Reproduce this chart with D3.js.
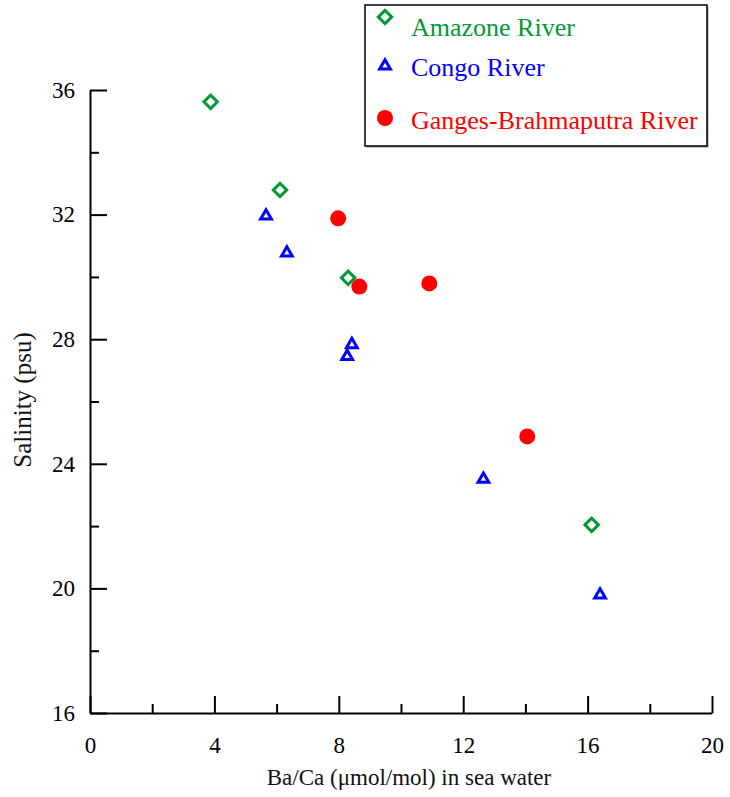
<!DOCTYPE html>
<html>
<head>
<meta charset="utf-8">
<script src="https://cdn.jsdelivr.net/npm/d3@7"></script>
<style>
body { margin: 0; background: white; }
text { font-family: "Liberation Serif", "Times New Roman", serif; }
</style>
</head>
<body>
<script>
// values
var amazone_x = [3.88, 6.11, 8.30, 16.13]
var amazone_y = [35.62, 32.79, 29.97, 22.04]
var congo_x = [5.66, 6.33, 8.42, 8.27, 12.65, 16.40]
var congo_y = [31.99, 30.80, 27.86, 27.48, 23.54, 19.82]
var ganges_x = [7.98, 8.66, 10.91, 14.06]
var ganges_y = [31.88, 29.69, 29.79, 24.88]

var x_ticks = [0, 4, 8, 12, 16, 20]
var x_minor = [2, 6, 10, 14, 18]
var y_ticks = [16, 20, 24, 28, 32, 36]
var y_minor = [18, 22, 26, 30, 34]

var series_names = ["Amazone River", "Congo River", "Ganges-Brahmaputra River"]

var w = 730
var h = 797

var x_scale = d3.scaleLinear().domain([0, 20]).range([90, 712])
var y_scale = d3.scaleLinear().domain([16, 36]).range([713, 90])

var svg = d3.select("body")
            .append("svg")
            .attr("width", w)
            .attr("height", h)

// x axis
var x_axis = svg.append("g")
    .attr("transform", "translate(0," + y_scale(16) + ")")
    .call(d3.axisBottom(x_scale).tickValues(x_ticks).tickSizeInner(-17).tickSizeOuter(0).tickPadding(24))
x_axis.selectAll("text").attr("font-size", 23).attr("fill", "black").attr("font-family", "Liberation Serif")

svg.append("g")
    .attr("transform", "translate(0," + y_scale(16) + ")")
    .call(d3.axisBottom(x_scale).tickValues(x_minor).tickSizeInner(-9).tickSizeOuter(0).tickFormat(""))
    .select(".domain").remove()

// y axis
var y_axis = svg.append("g")
    .attr("transform", "translate(" + x_scale(0) + ",0)")
    .call(d3.axisLeft(y_scale).tickValues(y_ticks).tickSizeInner(-17).tickSizeOuter(0).tickPadding(15))
y_axis.selectAll("text").attr("font-size", 23).attr("fill", "black").attr("font-family", "Liberation Serif")

svg.append("g")
    .attr("transform", "translate(" + x_scale(0) + ",0)")
    .call(d3.axisLeft(y_scale).tickValues(y_minor).tickSizeInner(-9).tickSizeOuter(0).tickFormat(""))
    .select(".domain").remove()

svg.selectAll(".domain, .tick line")
    .attr("stroke", "black")
    .attr("stroke-width", 2)

// axis titles
svg.append("text")
    .attr("x", 409)
    .attr("y", 785)
    .attr("text-anchor", "middle")
    .attr("font-size", 23)
    .attr("fill", "#111")
    .text("Ba/Ca (\u03bcmol/mol) in sea water")

svg.append("text")
    .attr("transform", "translate(31,400) rotate(-90)")
    .attr("text-anchor", "middle")
    .attr("font-size", 25)
    .attr("fill", "#111")
    .text("Salinity (psu)")

// markers
var green = "#009933"
var blue = "#0000ff"
var red = "#ff0000"

var diamond = d3.symbol().type(d3.symbolSquare).size(90)
var tri = d3.symbol().type(d3.symbolTriangle).size(50)

function draw_diamonds(g, xs, ys) {
    g.selectAll(null)
        .data(xs.map((d, i) => [d, ys[i]]))
        .enter()
        .append("path")
        .attr("d", diamond)
        .attr("transform", d => "translate(" + x_scale(d[0]) + "," + y_scale(d[1]) + ") rotate(45)")
        .attr("fill", "none")
        .attr("stroke", green)
        .attr("stroke-width", 3)
}

function draw_triangles(g, xs, ys) {
    g.selectAll(null)
        .data(xs.map((d, i) => [d, ys[i]]))
        .enter()
        .append("path")
        .attr("d", tri)
        .attr("transform", d => "translate(" + x_scale(d[0]) + "," + (y_scale(d[1]) + 1) + ")")
        .attr("fill", "none")
        .attr("stroke", blue)
        .attr("stroke-width", 3)
}

function draw_circles(g, xs, ys) {
    g.selectAll(null)
        .data(xs.map((d, i) => [d, ys[i]]))
        .enter()
        .append("circle")
        .attr("cx", d => x_scale(d[0]))
        .attr("cy", d => y_scale(d[1]))
        .attr("r", 8)
        .attr("fill", red)
}

var pts = svg.append("g")
draw_diamonds(pts, amazone_x, amazone_y)
draw_triangles(pts, congo_x, congo_y)
draw_circles(pts, ganges_x, ganges_y)

// legend
var legend = svg.append("g")
legend.append("rect")
    .attr("x", 366.5).attr("y", 6.5)
    .attr("width", 342).attr("height", 141)
    .attr("fill", "#999")
legend.append("rect")
    .attr("x", 365).attr("y", 5)
    .attr("width", 342).attr("height", 141)
    .attr("fill", "white")
    .attr("stroke", "black")
    .attr("stroke-width", 1.5)

var leg_y = [17, 65, 118]
var leg_text_y = [36, 76, 129]
var leg_colors = [green, blue, red]

legend.append("path")
    .attr("d", diamond)
    .attr("transform", "translate(385," + leg_y[0] + ") rotate(45)")
    .attr("fill", "none").attr("stroke", green).attr("stroke-width", 3)
legend.append("path")
    .attr("d", tri)
    .attr("transform", "translate(385," + (leg_y[1] + 1) + ")")
    .attr("fill", "none").attr("stroke", blue).attr("stroke-width", 3)
legend.append("circle")
    .attr("cx", 385).attr("cy", leg_y[2]).attr("r", 8)
    .attr("fill", red)

legend.selectAll(".leg-label")
    .data(series_names)
    .enter()
    .append("text")
    .attr("class", "leg-label")
    .attr("x", 411)
    .attr("y", (d, i) => leg_text_y[i])
    .attr("font-size", 26)
    .attr("fill", (d, i) => leg_colors[i])
    .text(d => d)
</script>
</body>
</html>
